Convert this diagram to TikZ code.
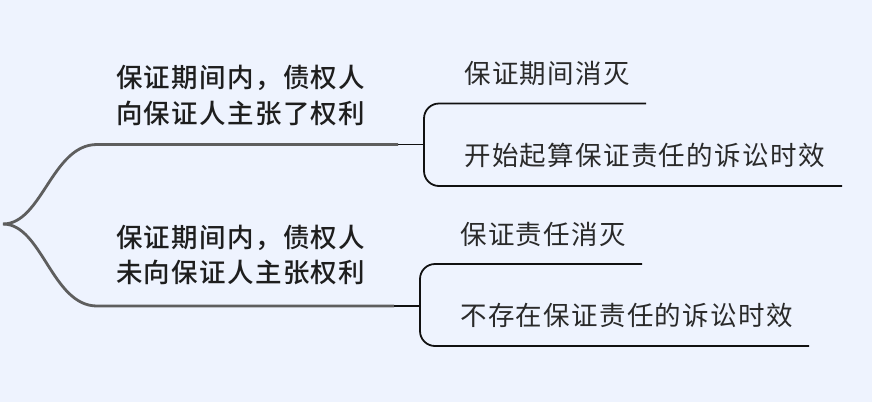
\documentclass[tikz,border=0pt]{standalone}
\usepackage{fontspec}
\newfontfamily\cjk[LetterSpace=5]{Noto Sans CJK SC}
\newfontfamily\cjkb[LetterSpace=5]{Noto Sans CJK SC Medium}
\definecolor{bg}{HTML}{EEF3FE}
\definecolor{branch}{HTML}{5E5E5E}
\definecolor{brk}{HTML}{111111}
\definecolor{lbl}{HTML}{1E1E1E}
\definecolor{leaf}{HTML}{2A2A2A}
\begin{document}
\begin{tikzpicture}[x=1pt,y=-1pt,
  mainlbl/.style={anchor=west,inner sep=0pt,align=left,text=lbl,font=\cjkb\fontsize{26.5}{35.5}\selectfont},
  leaflbl/.style={anchor=west,inner sep=0pt,text=leaf,font=\cjk\fontsize{26.5}{30}\selectfont},
  thickbranch/.style={draw=branch,line width=2.8pt},
  bracket/.style={draw=brk,line width=1.8pt,rounded corners=15pt}]
\fill[bg] (0,0) rectangle (872,402);
\useasboundingbox (0,0) rectangle (872,402);
% root and branch coordinates
\coordinate (root) at (3,224);
\coordinate (u0) at (97,144.5);
\coordinate (u1) at (398,144.5);
\coordinate (u2) at (424,144.5);
\coordinate (l0) at (97,306);
\coordinate (l1) at (394,306);
\coordinate (l2) at (420,306);
% labels
\node[mainlbl] (ua) at (116,95.5) {保证期间内，债权人\\向保证人主张了权利};
\node[mainlbl] (la) at (116,255) {保证期间内，债权人\\未向保证人主张权利};
\node[leaflbl] (u1t) at (464,73) {保证期间消灭};
\node[leaflbl] (u2t) at (464,155) {开始起算保证责任的诉讼时效};
\node[leaflbl] (l1t) at (460,234) {保证责任消灭};
\node[leaflbl] (l2t) at (460,315) {不存在保证责任的诉讼时效};
% branches
\draw[thickbranch] (root) .. controls (42,224) and (52,144.5) .. (u0) -- (u1);
\draw[thickbranch] (root) .. controls (42,224) and (52,306) .. (l0) -- (l1);
\draw[brk,line width=1.8pt] (u1) -- (u2);
\draw[brk,line width=1.8pt] (l1) -- (l2);
% brackets
\coordinate (ut) at (646,103.5);
\coordinate (ub) at (842,186);
\coordinate (lt) at (642,264);
\coordinate (lb) at (809,346);
\draw[bracket] (ut) -- (u2 |- ut) -- (u2 |- ub) -- (ub);
\draw[bracket] (lt) -- (l2 |- lt) -- (l2 |- lb) -- (lb);
\end{tikzpicture}
\end{document}
